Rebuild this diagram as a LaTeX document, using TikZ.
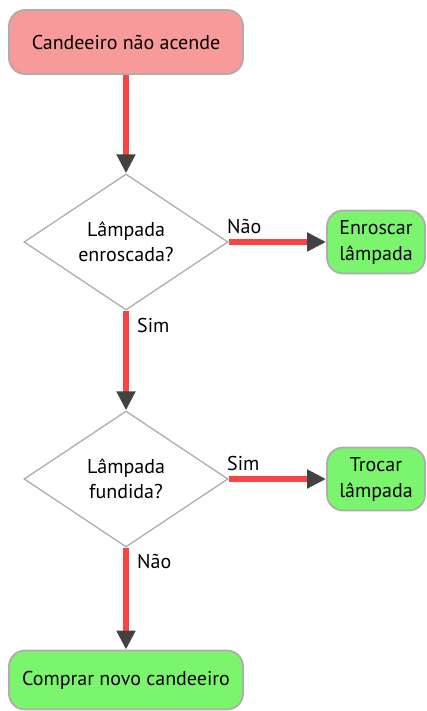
\documentclass[tikz,border=0pt]{standalone}
\usepackage{fontspec}
\setmainfont{PT Sans}
\usetikzlibrary{shapes.geometric,arrows.meta}
\definecolor{startpink}{HTML}{F99A9A}
\definecolor{endgreen}{HTML}{7BF46E}
\definecolor{boxedge}{HTML}{ADADAD}
\definecolor{flowred}{HTML}{F94444}
\definecolor{tipgray}{HTML}{424242}
\tikzset{
  termbox/.style={draw=boxedge, line width=1.8pt, rounded corners=16pt,
    minimum height=64pt, inner sep=0pt, align=center,
    font=\fontsize{20}{26}\selectfont},
  decision/.style={diamond, draw=boxedge, line width=1.3pt, aspect=1.5,
    minimum width=204pt, minimum height=136pt, inner sep=0pt, align=center,
    font=\fontsize{20}{25}\selectfont},
  flow/.style={draw=flowred, line width=6pt,
    -{Triangle[width=18pt,length=19pt,color=tipgray]}},
  flowlabel/.style={font=\fontsize{20}{22}\selectfont, inner sep=0pt}
}
\begin{document}
\begin{tikzpicture}[x=1pt,y=-1pt]
  \useasboundingbox (0,0) rectangle (426,711);
  \node[termbox, fill=startpink, minimum width=234pt] (start) at (126,42) {Candeeiro não acende};
  \node[decision] (q1) at (126,242) {Lâmpada\\enroscada?};
  \node[termbox, fill=endgreen, minimum width=98pt, minimum height=63pt] (screw) at (376,242) {Enroscar\\lâmpada};
  \node[decision] (q2) at (126,479) {Lâmpada\\fundida?};
  \node[termbox, fill=endgreen, minimum width=98pt, minimum height=63pt] (swap) at (376,479) {Trocar\\lâmpada};
  \node[termbox, fill=endgreen, minimum width=234pt, minimum height=59pt] (buy) at (126,680) {Comprar novo candeeiro};

  \draw[flow] (start.south) -- (q1.north);
  \draw[flow] (q1.east) -- (screw.west);
  \draw[flow] (q1.south) -- (q2.north);
  \draw[flow] (q2.east) -- (swap.west);
  \draw[flow] (q2.south) -- (buy.north);

  \node[flowlabel, anchor=west] (lno1) at (227,226) {Não};
  \node[flowlabel, anchor=west] (lyes1) at (137,325) {Sim};
  \node[flowlabel, anchor=west] (lyes2) at (227,463) {Sim};
  \node[flowlabel, anchor=west] (lno2) at (137,561) {Não};
\end{tikzpicture}
\end{document}
